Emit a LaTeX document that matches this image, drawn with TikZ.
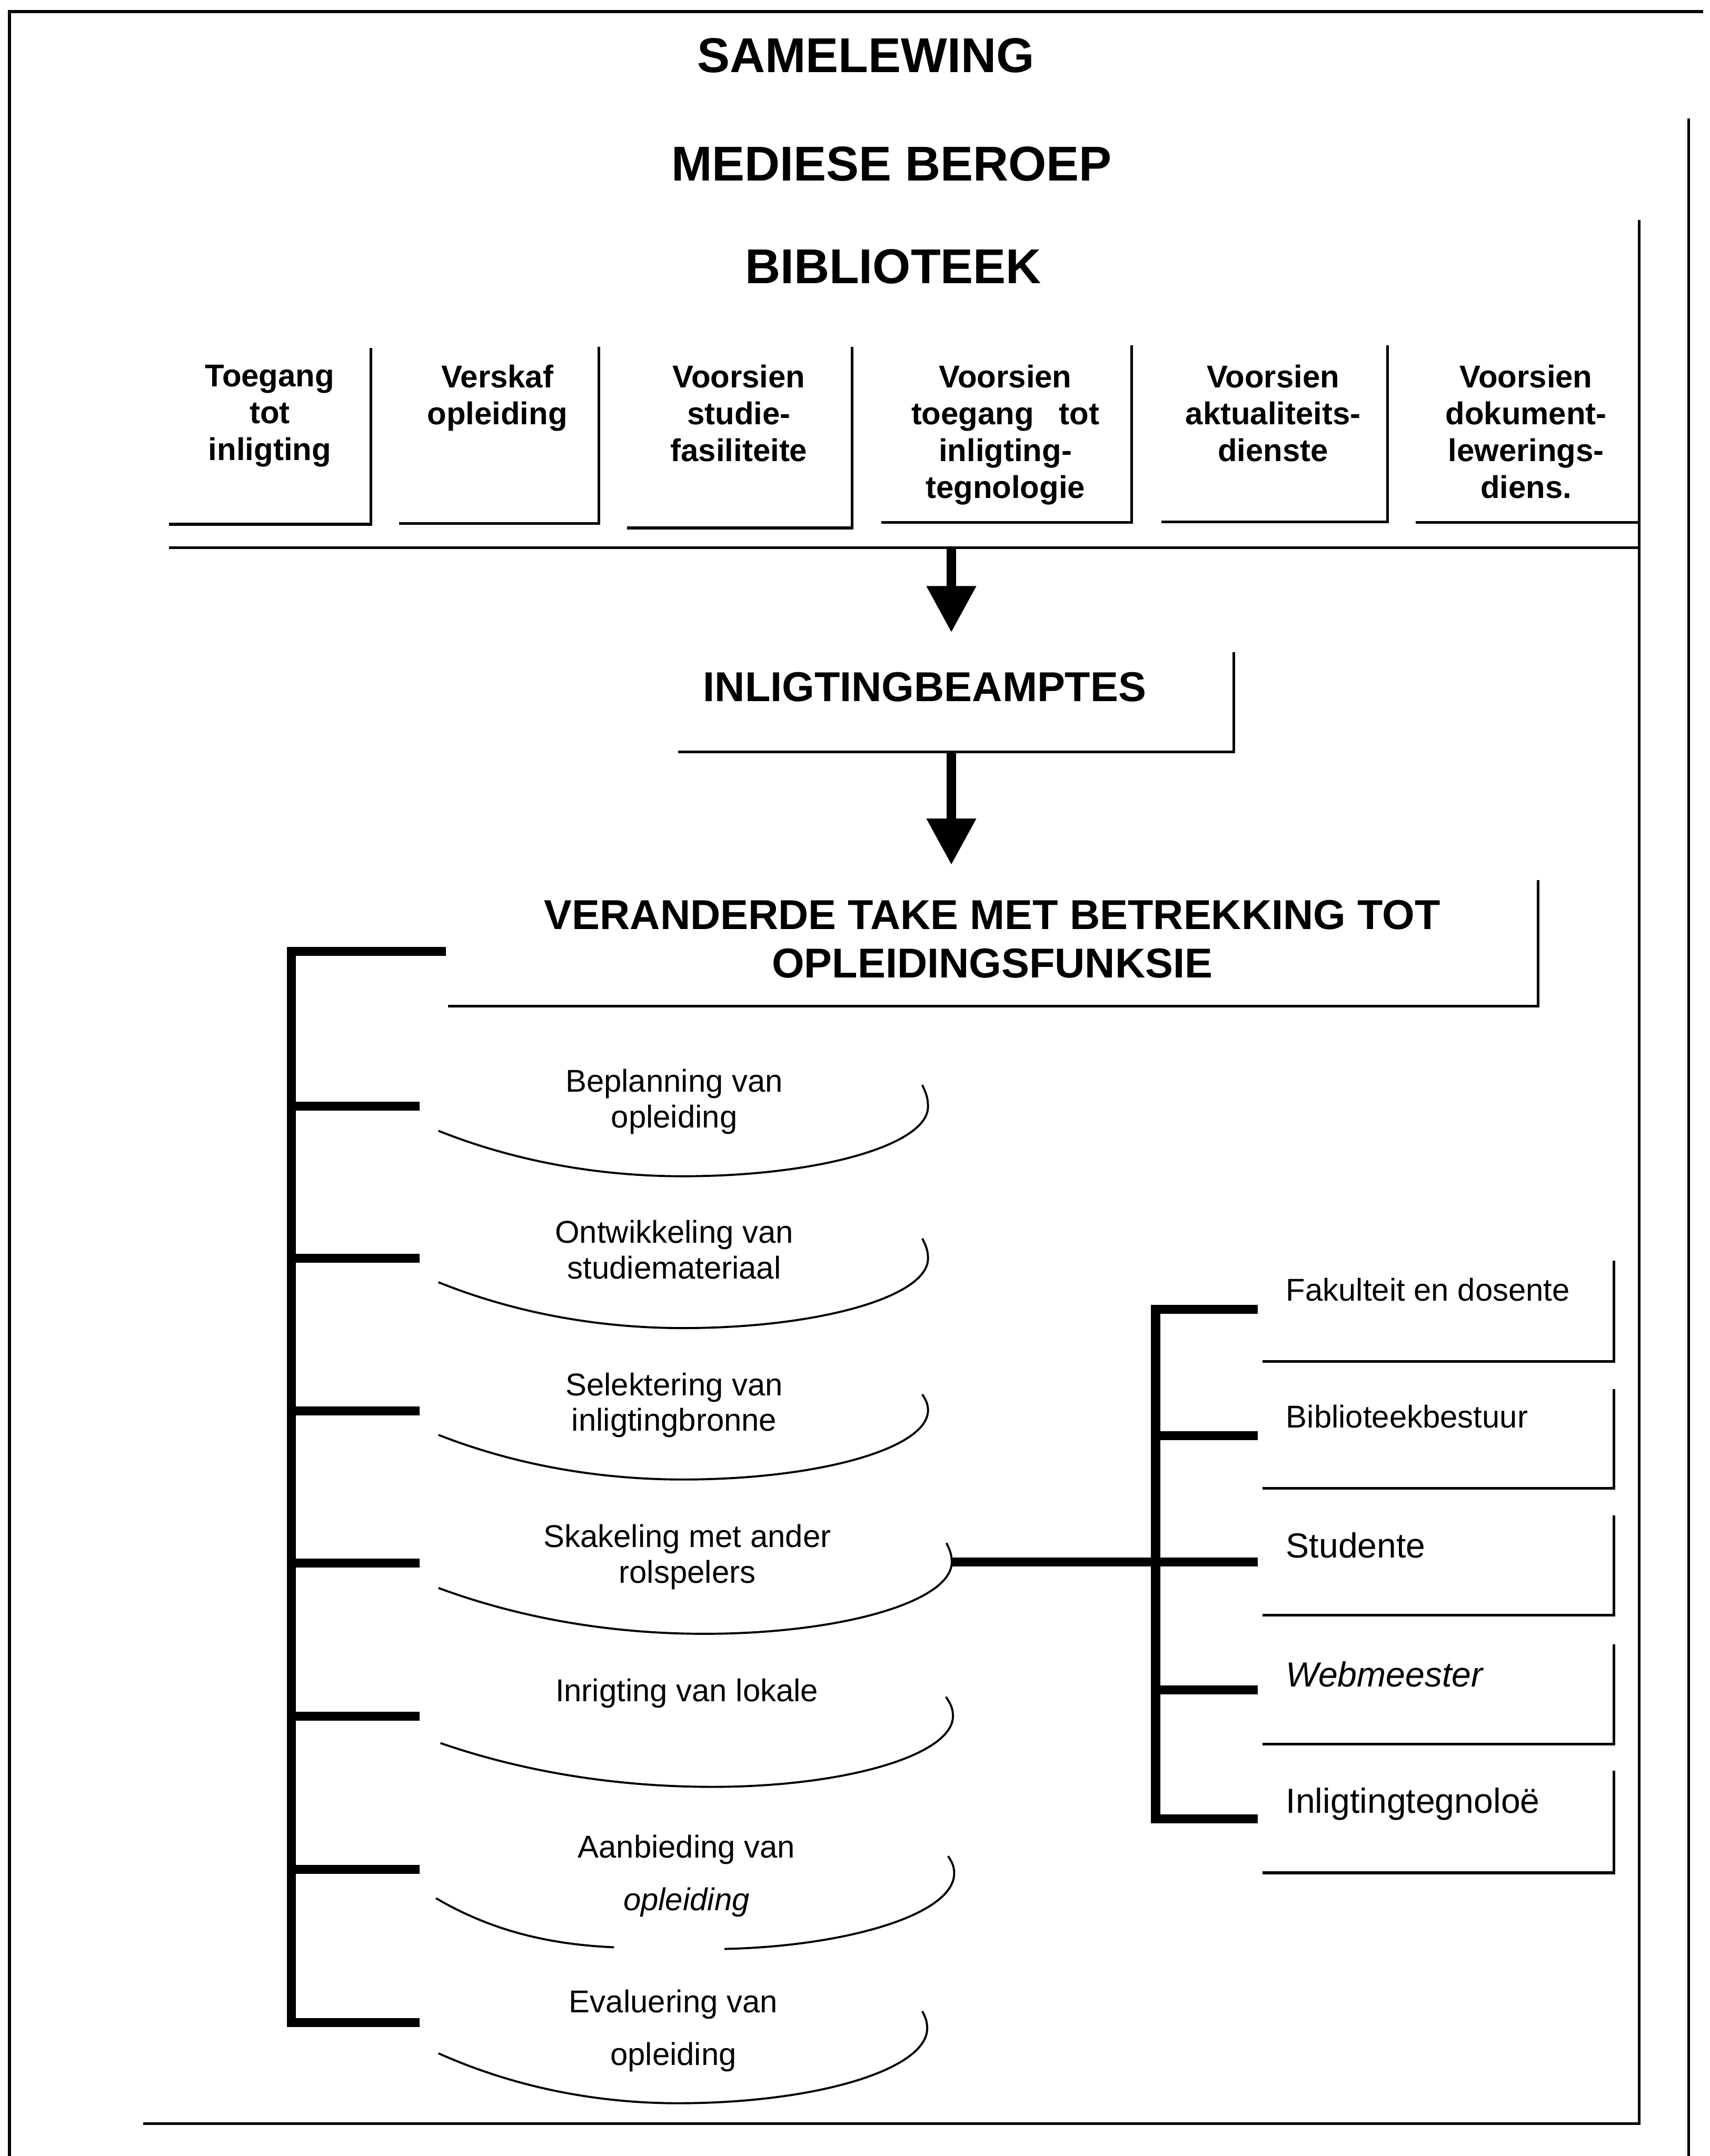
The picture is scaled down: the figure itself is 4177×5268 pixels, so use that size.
\documentclass[tikz,border=0pt]{standalone}
\usepackage{fontspec}
\setmainfont{Liberation Sans}
\usetikzlibrary{arrows.meta}
\newcommand{\taskcurve}[8]{%
  \draw[curveline] (#1,#2) .. controls ({#1+0.35*(#3-#1)},{#2+0.75*(#4-#2)}) and ({#3-0.3*(#3-#1)},#4) .. (#3,#4)
    .. controls ({#3+0.552*(#5-#3)},#4) and (#5,{#6+0.552*(#4-#6)}) .. (#5,#6)
    .. controls (#5,{#6-0.5*(#6-#8)}) and ({#7+0.4*(#5-#7)},{#8+0.25*(#6-#8)}) .. (#7,#8);}
\begin{document}
\begin{tikzpicture}[x=0.01cm,y=-0.01cm,
  frameline/.style={line width=0.07cm},
  boxline/.style={line width=0.065cm},
  bar/.style={line width=0.22cm},
  curveline/.style={line width=0.05cm},
  bigarrow/.style={line width=0.22cm,-{Triangle[width=1.16cm,length=1.13cm]}},
  titletxt/.style={inner sep=0pt,anchor=base,font=\fontsize{34pt}{40pt}\selectfont\bfseries},
  midtxt/.style={inner sep=0pt,align=center,font=\fontsize{29pt}{33.6pt}\selectfont\bfseries},
  boxtxt/.style={inner sep=0pt,align=center,anchor=north,font=\fontsize{21.9pt}{25.6pt}\selectfont\bfseries},
  tasktxt/.style={inner sep=0pt,align=center,anchor=north,font=\fontsize{21.9pt}{24.8pt}\selectfont},
  taskwide/.style={inner sep=0pt,align=center,anchor=north,font=\fontsize{21.9pt}{36.5pt}\selectfont},
  roletxt/.style={inner sep=0pt,anchor=base west,font=\fontsize{21.9pt}{25pt}\selectfont},
  rolebig/.style={inner sep=0pt,anchor=base west,font=\fontsize{24.2pt}{28pt}\selectfont},
]
\useasboundingbox (0,0) rectangle (4177,5268);

% ---- frames
\coordinate (oTL) at (23,28); \coordinate (oTR) at (4160,28); \coordinate (oBL) at (23,5268);
\coordinate (oR1) at (4125,289); \coordinate (oR2) at (4125,5268);
\draw[frameline] (oBL) -- (oTL) -- (oTR);
\draw[frameline] (oR1) -- (oR2);
\coordinate (iT) at (4004,538); \coordinate (iB) at (4004,5189); \coordinate (iBL) at (350,5189);
\draw[frameline] (iT) -- (iB) -- (iBL);

% ---- titles
\node[titletxt] (sam) at (2115,177) {SAMELEWING};
\node[titletxt] (med) at (2178,442) {MEDIESE BEROEP};
\node[titletxt] (bib) at (2182,692) {BIBLIOTEEK};

% ---- function boxes
\draw[boxline] (906,850) -- (906,1281) -- (413,1281);
\draw[boxline] (1463,847) -- (1463,1279) -- (975,1279);
\draw[boxline] (2081,848) -- (2081,1290) -- (1532,1290);
\draw[boxline] (2765,844) -- (2765,1277) -- (2153,1277);
\draw[boxline] (3389,844) -- (3389,1275) -- (2837,1275);
\draw[boxline] (4004,1277) -- (3458,1277);
\coordinate (ll) at (413,1338); \coordinate (lr) at (4004,1338);
\draw[frameline] (ll) -- (lr);

\node[boxtxt] (f1) at (659,891) {Toegang\\tot\\inligting};
\node[boxtxt] (f2) at (1215,891) {Verskaf\\opleiding};
\node[boxtxt] (f3) at (1805,891) {Voorsien\\studie-\\fasiliteite};
\node[boxtxt] (f4) at (2456,891) {Voorsien\\toegang\hspace{0.8em}tot\\inligting-\\tegnologie};
\node[boxtxt] (f5) at (3110,891) {Voorsien\\aktualiteits-\\dienste};
\node[boxtxt] (f6) at (3728,891) {Voorsien\\dokument-\\lewerings-\\diens.};

% ---- inligtingbeamptes
\node[midtxt,anchor=base] (ib) at (2259,1714) {INLIGTINGBEAMPTES};
\draw[boxline] (3014,1593) -- (3014,1837) -- (1657,1837);

% ---- veranderde take
\node[midtxt,anchor=north] (vt) at (2424,2199) {VERANDERDE TAKE MET BETREKKING TOT\\OPLEIDINGSFUNKSIE};
\draw[boxline] (3758,2151) -- (3758,2459) -- (1095,2459);

% ---- arrows
\coordinate (a1s) at (2324,1338); \coordinate (a1e) at (2324,1545);
\draw[bigarrow] (a1s) -- (a1e);
\coordinate (a2s) at (2324,1837); \coordinate (a2e) at (2324,2113);
\draw[bigarrow] (a2s) -- (a2e);

% ---- left tree
\coordinate (ltop) at (712,2314); \coordinate (lbot) at (712,4953);
\draw[bar] (ltop) -- (lbot);
\coordinate (lb0) at (712,2325); \coordinate (le0) at (1089,2325);
\draw[bar] (lb0) -- (le0);
\foreach \y [count=\i] in {2703,3075,3448,3819,4193,4568,4942} {
  \coordinate (lb\i) at (712,\y); \coordinate (le\i) at (1025,\y);
  \draw[bar] (lb\i) -- (le\i);
}

% ---- task curves
\taskcurve{1071}{2763}{1668}{2874}{2267}{2704}{2253}{2651}
\taskcurve{1071}{3133}{1668}{3245}{2267}{3075}{2253}{3026}
\taskcurve{1071}{3506}{1668}{3615}{2267}{3446}{2253}{3407}
\taskcurve{1071}{3880}{1720}{3992}{2325}{3817}{2312}{3770}
\taskcurve{1076}{4259}{1740}{4366}{2328}{4193}{2311}{4146}
\draw[curveline] (1065,4638) .. controls (1216,4727) and (1366,4752) .. (1500,4758);
\draw[curveline] (1770,4762) .. controls (2060,4756) and (2331,4680) .. (2331,4577)
   .. controls (2331,4556) and (2322,4545) .. (2316,4535);
\taskcurve{1071}{5017}{1656}{5139}{2265}{4956}{2253}{4914}

% ---- task labels
\node[tasktxt] (t1) at (1647,2612) {Beplanning van\\opleiding};
\node[tasktxt] (t2) at (1647,2981) {Ontwikkeling van\\studiemateriaal};
\node[tasktxt] (t3) at (1647,3353) {Selektering van\\inligtingbronne};
\node[tasktxt] (t4) at (1679,3724) {Skakeling met ander\\rolspelers};
\node[tasktxt,anchor=base] (t5) at (1678,4158) {Inrigting van lokale};
\node[taskwide] (t6) at (1677,4483) {Aanbieding van\\\textit{opleiding}};
\node[taskwide] (t7) at (1645,4861) {Evaluering van\\opleiding};

% ---- right tree
\coordinate (rtop) at (2823,3188); \coordinate (rbot) at (2823,4455);
\draw[bar] (rtop) -- (rbot);
\foreach \y [count=\i] in {3199,3508,3817,4129,4444} {
  \coordinate (rb\i) at (2823,\y); \coordinate (re\i) at (3072,\y);
  \draw[bar] (rb\i) -- (re\i);
}
\coordinate (t4r) at (2325,3817);
\draw[bar] (t4r) -- (rb3);

% ---- role boxes
\foreach \t/\b in {3080/3326,3394/3636,3703/3947,4018/4262,4327/4576} {
  \draw[boxline] (3942,\t) -- (3942,\b) -- (3084,\b);
}
\node[roletxt] (r1) at (3141,3178) {Fakulteit en dosente};
\node[roletxt] (r2) at (3141,3489) {Biblioteekbestuur};
\node[rolebig] (r3) at (3141,3806) {Studente};
\node[rolebig] (r4) at (3141,4121) {\textit{Webmeester}};
\node[rolebig] (r5) at (3141,4430) {Inligtingtegnoloë};
\end{tikzpicture}
\end{document}
